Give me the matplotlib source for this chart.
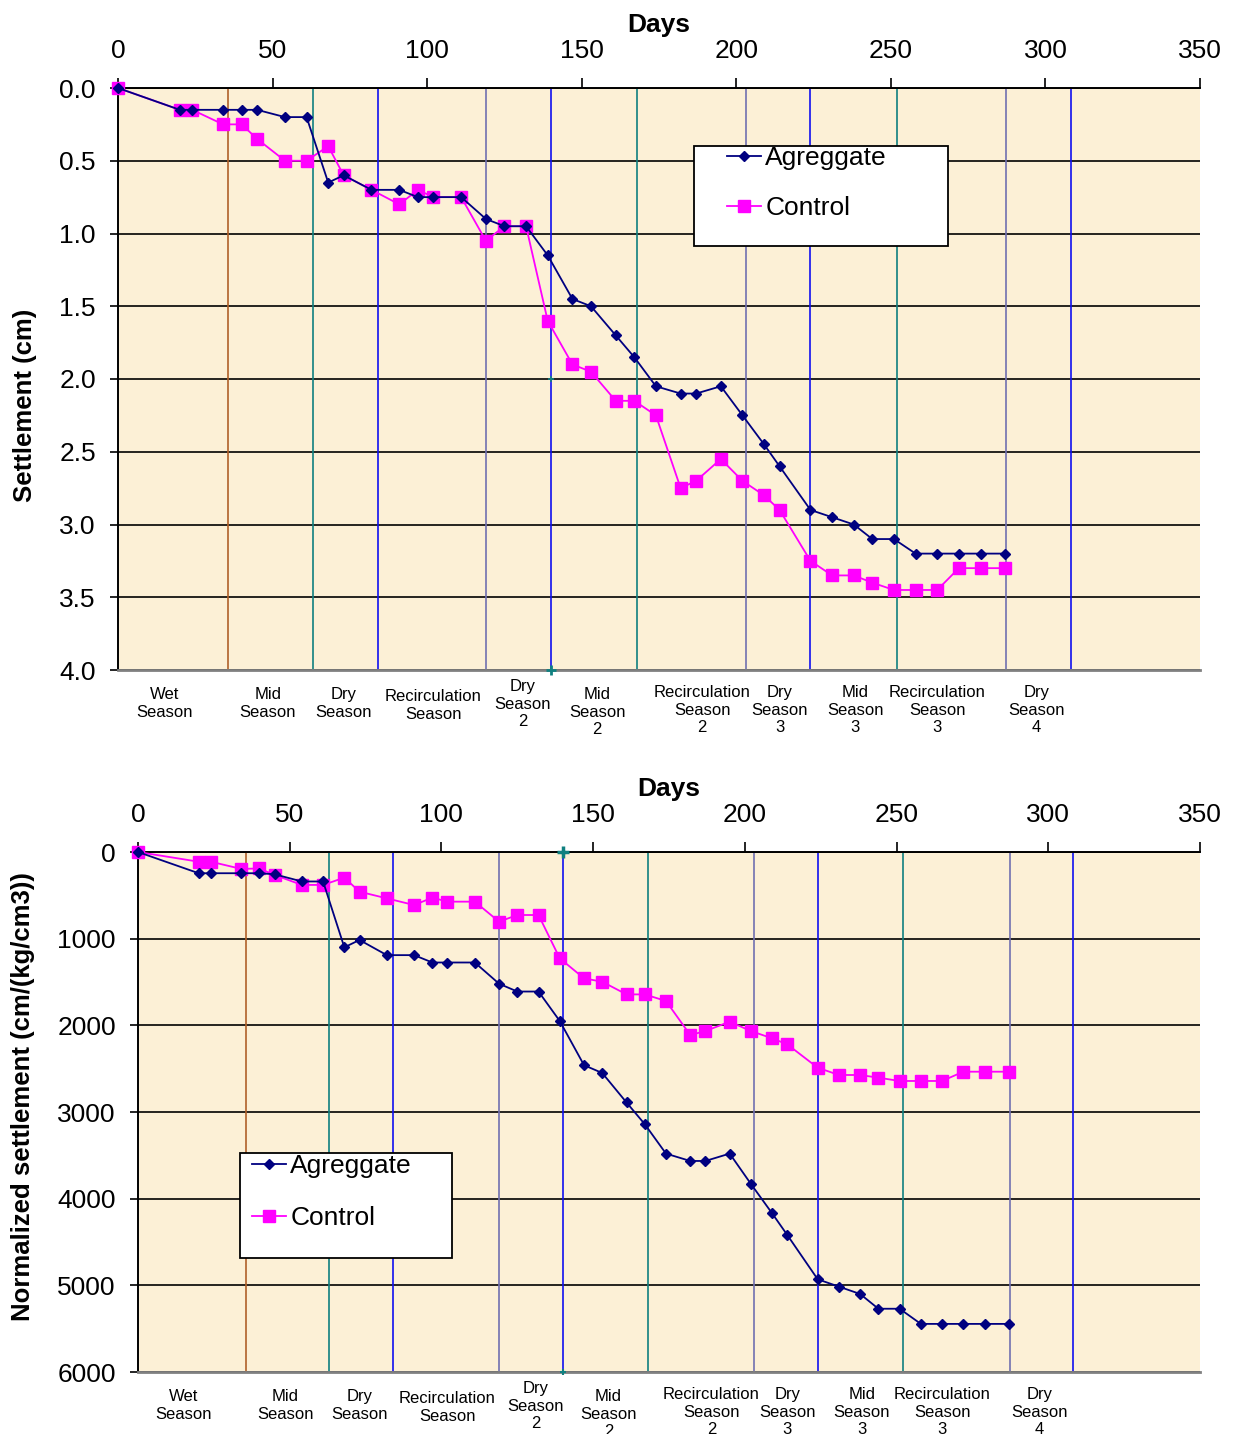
import matplotlib
matplotlib.use("Agg")
import matplotlib.pyplot as plt
from matplotlib.patches import Rectangle
from matplotlib.lines import Line2D

plt.rcParams['font.family'] = ['Liberation Sans', 'DejaVu Sans']

# ---------------- data ----------------
days = [0, 20, 24, 34, 40, 45, 54, 61, 68, 73, 82, 91, 97, 102, 111, 119, 125, 132,
        139, 147, 153, 161, 167, 174, 182, 187, 195, 202, 209, 214, 224, 231, 238,
        244, 251, 258, 265, 272, 279, 287]

settle_agg = [0, 0.15, 0.15, 0.15, 0.15, 0.15, 0.2, 0.2, 0.65, 0.6, 0.7, 0.7, 0.75,
              0.75, 0.75, 0.9, 0.95, 0.95, 1.15, 1.45, 1.5, 1.7, 1.85, 2.05, 2.1, 2.1,
              2.05, 2.25, 2.45, 2.6, 2.9, 2.95, 3.0, 3.1, 3.1, 3.2, 3.2, 3.2, 3.2, 3.2]
settle_ctl = [0, 0.15, 0.15, 0.25, 0.25, 0.35, 0.5, 0.5, 0.4, 0.6, 0.7, 0.8, 0.7,
              0.75, 0.75, 1.05, 0.95, 0.95, 1.6, 1.9, 1.95, 2.15, 2.15, 2.25, 2.75, 2.7,
              2.55, 2.7, 2.8, 2.9, 3.25, 3.35, 3.35, 3.4, 3.45, 3.45, 3.45, 3.3, 3.3, 3.3]

norm_agg = [0, 245, 245, 245, 245, 257, 340, 340, 1100, 1015, 1190, 1190, 1275, 1275,
            1275, 1520, 1610, 1610, 1950, 2460, 2550, 2890, 3140, 3480, 3565, 3565,
            3480, 3830, 4170, 4420, 4930, 5015, 5100, 5270, 5270, 5445, 5445, 5445,
            5445, 5445]
norm_ctl = [0, 112, 112, 195, 190, 265, 380, 380, 296, 458, 535, 612, 527, 573, 573,
            804, 727, 727, 1227, 1458, 1497, 1643, 1643, 1719, 2112, 2066, 1958, 2066,
            2150, 2220, 2489, 2573, 2573, 2604, 2642, 2642, 2642, 2535, 2535, 2535]

series_names = ["Agreggate", "Control"]

# season boundaries (days) and their line colours
season_bounds = [35.5, 63, 84, 119, 140, 168, 203, 224, 252, 287.3, 308.3]
season_colors = ['#B0602A', '#108080', '#1010F0', '#7070B0', '#1010F0', '#108080',
                 '#7070B0', '#1010F0', '#108080', '#7070B0', '#1010F0']

season_labels = ["Wet\nSeason", "Mid\nSeason", "Dry\nSeason", "Recirculation\nSeason",
                 "Dry\nSeason\n2", "Mid\nSeason\n2", "Recirculation\nSeason\n2",
                 "Dry\nSeason\n3", "Mid\nSeason\n3", "Recirculation\nSeason\n3",
                 "Dry\nSeason\n4"]
season_label_days = [15, 48.5, 73, 102, 131, 155, 189, 214, 238.5, 265, 297]
season_label_off = [24, 24, 24, 26, 16, 24, 22, 22, 22, 22, 22]   # px below axis

x_ticks = [0, 50, 100, 150, 200, 250, 300, 350]
top_yticks = [0.0, 0.5, 1.0, 1.5, 2.0, 2.5, 3.0, 3.5, 4.0]
bot_yticks = [0, 1000, 2000, 3000, 4000, 5000, 6000]

# ---------------- figure ----------------
W, H = 1234, 1434
fig = plt.figure(figsize=(W / 100, H / 100), dpi=100)
BG = '#FCF0D6'
AGG_C = '#000080'
CTL_C = '#FF00FF'


def make_axes(l, t, r, b):
    return fig.add_axes([l / W, 1 - b / H, (r - l) / W, (b - t) / H])


def style_axes(ax, yticks, ylim, yfmt, ylabel, ylab_coords):
    ax.set_facecolor(BG)
    ax.set_xlim(0, 350)
    ax.set_ylim(ylim[1], ylim[0])
    ax.set_xticks(x_ticks)
    ax.set_yticks(yticks)
    ax.set_yticklabels([yfmt(v) for v in yticks])
    ax.xaxis.tick_top()
    ax.xaxis.set_label_position('top')
    ax.tick_params(axis='x', which='both', direction='out', length=7, width=1.2,
                   pad=11, labelsize=19, top=True, bottom=False)
    ax.tick_params(axis='y', direction='out', length=6, width=1.2, pad=10,
                   labelsize=19)
    ax.set_xlabel('Days', fontsize=19, fontweight='bold', labelpad=5)
    ax.set_ylabel(ylabel, fontsize=18.5, fontweight='bold')
    ax.yaxis.set_label_coords(*ylab_coords)
    for v in yticks:
        ax.axhline(v, color='black', lw=1.2, zorder=1)
    for d, c in zip(season_bounds, season_colors):
        ax.axvline(d, color=c, lw=1.2, zorder=1.5)
    ax.spines['right'].set_visible(False)
    ax.spines['top'].set_linewidth(1.4)
    ax.spines['left'].set_linewidth(1.4)
    ax.spines['bottom'].set_color('#808080')
    ax.spines['bottom'].set_linewidth(2)
    for lab, d, off in zip(season_labels, season_label_days, season_label_off):
        ax.annotate(lab, xy=(d, 0), xycoords=('data', 'axes fraction'),
                    xytext=(0, -(off - 7)), textcoords='offset pixels',
                    ha='center', va='top', fontsize=12, linespacing=1.22)


def plot_series(ax, agg, ctl):
    ax.plot(days, agg, color=AGG_C, lw=1.3, marker='D', ms=5.5, mec=AGG_C,
            mfc=AGG_C, zorder=4, clip_on=False)
    ax.plot(days, ctl, color=CTL_C, lw=1.3, marker='s', ms=8, mec=CTL_C,
            mfc=CTL_C, zorder=3, clip_on=False)


def legend_box(l, t, r, b, hx, rows_y):
    fig.patches.append(Rectangle((l / W, 1 - b / H), (r - l) / W, (b - t) / H,
                                 transform=fig.transFigure, facecolor='white',
                                 edgecolor='black', lw=1.3, zorder=5))
    handles = [Line2D([], [], color=AGG_C, lw=1.3, marker='D', ms=5.5),
               Line2D([], [], color=CTL_C, lw=1.3, marker='s', ms=8)]
    for hnd, name, y in zip(handles, series_names, rows_y):
        leg = fig.legend([hnd], [name], loc='center left',
                         bbox_to_anchor=(hx / W, 1 - y / H), frameon=False,
                         fontsize=19, handlelength=1.3, handletextpad=0.15,
                         borderpad=0, borderaxespad=0)
        leg.set_zorder(6)


# top chart
ax1 = make_axes(118, 88, 1200, 670)
style_axes(ax1, top_yticks, (0, 4), lambda v: f"{v:.1f}", 'Settlement (cm)',
           (-0.075, 0.455))
plot_series(ax1, settle_agg, settle_ctl)
ax1.plot([140], [4.0], marker='+', color='#108080', ms=7, mew=2, clip_on=False, zorder=5)
ax1.plot([140], [2.0], marker='+', color='#108080', ms=4, mew=1.2, zorder=5)

# bottom chart
ax2 = make_axes(138, 852, 1200, 1372)
style_axes(ax2, bot_yticks, (0, 6000), lambda v: f"{int(v)}",
           'Normalized settlement (cm/(kg/cm3))', (-0.097, 0.529))
plot_series(ax2, norm_agg, norm_ctl)
ax2.plot([140], [0], marker='+', color='#108080', ms=9, mew=2.5, clip_on=False, zorder=5)
ax2.plot([140], [6000], marker='+', color='#108080', ms=5, mew=1.5, clip_on=False, zorder=5)

legend_box(694, 146, 948, 246, 727, [158, 208])
legend_box(240, 1153, 452, 1258, 252, [1166, 1218])

fig.savefig('out.png', dpi=100, facecolor='white')
